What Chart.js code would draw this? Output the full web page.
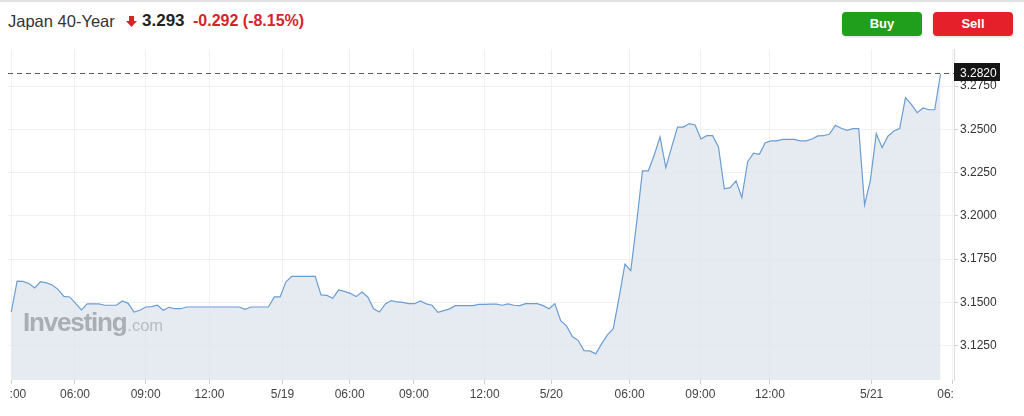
<!DOCTYPE html>
<html>
<head>
<meta charset="utf-8">
<title>Japan 40-Year</title>
<script src="https://cdn.jsdelivr.net/npm/chart.js@4.4.1/dist/chart.umd.min.js"></script>
<style>
    html, body { margin: 0; padding: 0; background: #fff; }
    body {
        width: 1024px; height: 416px; position: relative; overflow: hidden;
        font-family: "Liberation Sans", Arial, sans-serif;
    }
    .top-rule { position: absolute; left: 0; top: 0; width: 1024px; height: 2px; background: #e2e2e2; }
    .hdr { position: absolute; top: 11px; line-height: 20px; white-space: nowrap; }
    .hdr-name { left: 8px; font-size: 16.5px; color: #333; }
    .hdr-arrow { position: absolute; left: 126px; top: 16px; }
    .hdr-last { left: 142px; font-size: 17px; font-weight: bold; color: #222; }
    .hdr-chg { left: 193px; font-size: 16px; font-weight: bold; color: #d8232a; }
    .btn {
        position: absolute; top: 12px; width: 80px; height: 24px; border-radius: 4px;
        color: #fff; font-weight: bold; font-size: 13px; line-height: 24px; text-align: center;
        box-shadow: 0 1px 3px rgba(0,0,0,0.15);
    }
    .btn-buy { left: 842px; background: #1f9f1c; }
    .btn-sell { left: 933px; background: #e5202a; }
    #chartWrap { position: absolute; left: 8px; top: 40px; width: 1016px; height: 376px; }
    .watermark {
        position: absolute; left: 23px; top: 307px; line-height: 30px; white-space: nowrap;
        pointer-events: none;
    }
    .wm-main { font-size: 26px; font-weight: bold; color: #a8aeb4; letter-spacing: -1.2px; }
    .wm-dot { font-size: 16.5px; color: #b7bcc2; margin-left: 1px; }
</style>
</head>
<body>
<div class="top-rule"></div>
<span class="hdr hdr-name">Japan 40-Year</span>
<svg class="hdr-arrow" width="11" height="11" viewBox="0 0 11 11">
    <path d="M3 0 H8 V5 H11 L5.5 11 L0 5 H3 Z" fill="#d8232a"/>
</svg>
<span class="hdr hdr-last">3.293</span>
<span class="hdr hdr-chg">-0.292 (-8.15%)</span>
<div class="btn btn-buy">Buy</div>
<div class="btn btn-sell">Sell</div>

<div id="chartWrap"><canvas id="yieldChart" width="1016" height="376"></canvas></div>
<div class="watermark"><span class="wm-main">Investing</span><span class="wm-dot">.com</span></div>

<script>
// Yield readings, one per bar (trading time only)
const yields = [
    3.1444, 3.1623, 3.1621, 3.1609, 3.1583, 3.1619, 3.1612, 3.1600, 3.1575, 3.1534,
    3.1531, 3.1494, 3.1456, 3.1491, 3.1491, 3.1491, 3.1483, 3.1483, 3.1483, 3.1508,
    3.1494, 3.1444, 3.1454, 3.1473, 3.1475, 3.1483, 3.1454, 3.1471, 3.1463, 3.1463,
    3.1473, 3.1473, 3.1473, 3.1473, 3.1473, 3.1473, 3.1473, 3.1473, 3.1473, 3.1473,
    3.1459, 3.1473, 3.1473, 3.1473, 3.1473, 3.1531, 3.1531, 3.1618, 3.1650, 3.1650,
    3.1650, 3.1650, 3.1650, 3.1543, 3.1540, 3.1523, 3.1571, 3.1563, 3.1552, 3.1533,
    3.1560, 3.1531, 3.1463, 3.1444, 3.1491, 3.1510, 3.1502, 3.1500, 3.1492, 3.1492,
    3.1508, 3.1491, 3.1483, 3.1442, 3.1452, 3.1462, 3.1481, 3.1481, 3.1481, 3.1481,
    3.1488, 3.1488, 3.1489, 3.1489, 3.1483, 3.1491, 3.1483, 3.1481, 3.1492, 3.1492,
    3.1492, 3.1481, 3.1463, 3.1491, 3.1394, 3.1364, 3.1302, 3.1279, 3.1221, 3.1219,
    3.1202, 3.1260, 3.1312, 3.1348, 3.1529, 3.1721, 3.1683, 3.1961, 3.2260, 3.2260,
    3.2350, 3.2456, 3.2279, 3.2398, 3.2513, 3.2513, 3.2533, 3.2525, 3.2444, 3.2463,
    3.2463, 3.2398, 3.2156, 3.2163, 3.2202, 3.2106, 3.2313, 3.2362, 3.2356, 3.2423,
    3.2433, 3.2433, 3.2442, 3.2442, 3.2442, 3.2433, 3.2433, 3.2444, 3.2462, 3.2463,
    3.2473, 3.2523, 3.2506, 3.2494, 3.2504, 3.2504, 3.2063, 3.2206, 3.2475, 3.2394,
    3.2460, 3.2490, 3.2504, 3.2683, 3.2644, 3.2596, 3.2623, 3.2613, 3.2613, 3.2820
];

// Time axis: where each label falls along the series (bar number) and its text
const timeTickPos = [0, 10.9, 23, 33.9, 46.4, 57.9, 68.9, 81, 92.4, 105.8, 117.9, 129.8, 147.2, 161];
const timeTickLabels = ['03:00', '06:00', '09:00', '12:00', '5/19', '06:00', '09:00', '12:00',
    '5/20', '06:00', '09:00', '12:00', '5/21', '06:00'];

// Price axis ticks
const yieldTicks = [3.125, 3.15, 3.175, 3.2, 3.225, 3.25, 3.275];

document.addEventListener('DOMContentLoaded', () => {
    initYieldChart();
});

// Dashed last-price line with the black price tag on the axis
const lastPricePlugin = {
    id: 'lastPrice',
    beforeDraw(chart) {
        // clip x labels to the plot width, like the original widget
        const sx = chart.scales.x;
        if (sx && !sx._clipPatched) {
            const orig = sx.drawLabels;
            sx.drawLabels = function (area) {
                const c = this.ctx;
                c.save();
                c.beginPath();
                c.rect(area.left + 1.5, 0, area.right - area.left - 1.5, this.chart.height);
                c.clip();
                orig.call(this, area);
                c.restore();
            };
            sx._clipPatched = true;
        }
    },
    afterDatasetsDraw(chart) {
        const { ctx, chartArea, scales } = chart;
        const last = yields[yields.length - 1];
        const y = Math.round(scales.y.getPixelForValue(last)) - 0.5;
        ctx.save();
        ctx.strokeStyle = '#5a5a5a';
        ctx.lineWidth = 1;
        ctx.setLineDash([5, 4]);
        ctx.beginPath();
        ctx.moveTo(chartArea.left, y);
        ctx.lineTo(chartArea.right, y);
        ctx.stroke();
        ctx.restore();
    },
    afterDraw(chart) {
        const { ctx, chartArea, scales } = chart;
        const last = yields[yields.length - 1];
        const y = scales.y.getPixelForValue(last) - 1;
        ctx.save();
        ctx.fillStyle = '#151515';
        ctx.fillRect(chartArea.right, Math.round(y - 9.5), 46, 18);
        ctx.fillStyle = '#fff';
        ctx.font = '12px "Liberation Sans", Arial, sans-serif';
        ctx.textAlign = 'left';
        ctx.textBaseline = 'middle';
        ctx.fillText(last.toFixed(4), chartArea.right + 6, y + 0.5);
        ctx.restore();
    }
};

function initYieldChart() {
    const ctx = document.getElementById('yieldChart');
    if (!ctx) return;

    Chart.defaults.font.family = '"Liberation Sans", Arial, sans-serif';
    Chart.defaults.font.size = 12;
    Chart.defaults.color = '#333';

    new Chart(ctx, {
        type: 'line',
        data: {
            datasets: [{
                label: 'Japan 40-Year',
                data: yields.map((v, i) => ({ x: i, y: v })),
                borderColor: '#6b9dd3',
                borderWidth: 1.2,
                backgroundColor: 'rgba(222, 230, 238, 0.8)',
                fill: 'start',
                pointRadius: 0,
                tension: 0
            }]
        },
        options: {
            responsive: false,
            animation: false,
            layout: { padding: { top: 8, bottom: 14, left: 0, right: 0 } },
            plugins: {
                legend: { display: false },
                tooltip: { enabled: false }
            },
            scales: {
                x: {
                    type: 'linear',
                    min: -0.56,
                    max: 161.3,
                    afterBuildTicks: s => { s.ticks = timeTickPos.map(v => ({ value: v })); },
                    afterFit: s => { s.paddingLeft = 0; s.paddingRight = 0; s.height = 22; },
                    ticks: {
                        autoSkip: false,
                        maxRotation: 0,
                        padding: 3,
                        color: '#444',
                        callback: (v, i) => timeTickLabels[i]
                    },
                    grid: { color: '#f1f1f1', tickColor: '#cfcfcf', tickLength: 4 },
                    border: { display: false }
                },
                y: {
                    position: 'right',
                    min: 3.1051,
                    max: 3.2963,
                    afterBuildTicks: s => { s.ticks = yieldTicks.map(v => ({ value: v })); },
                    afterFit: s => { s.width = 70; },
                    ticks: {
                        padding: 2,
                        color: '#333',
                        callback: v => Number(v).toFixed(4)
                    },
                    grid: { color: '#f1f1f1', tickColor: '#cfcfcf', tickLength: 4 },
                    border: { color: '#dcdcdc' }
                }
            }
        },
        plugins: [lastPricePlugin]
    });
}
</script>
</body>
</html>
